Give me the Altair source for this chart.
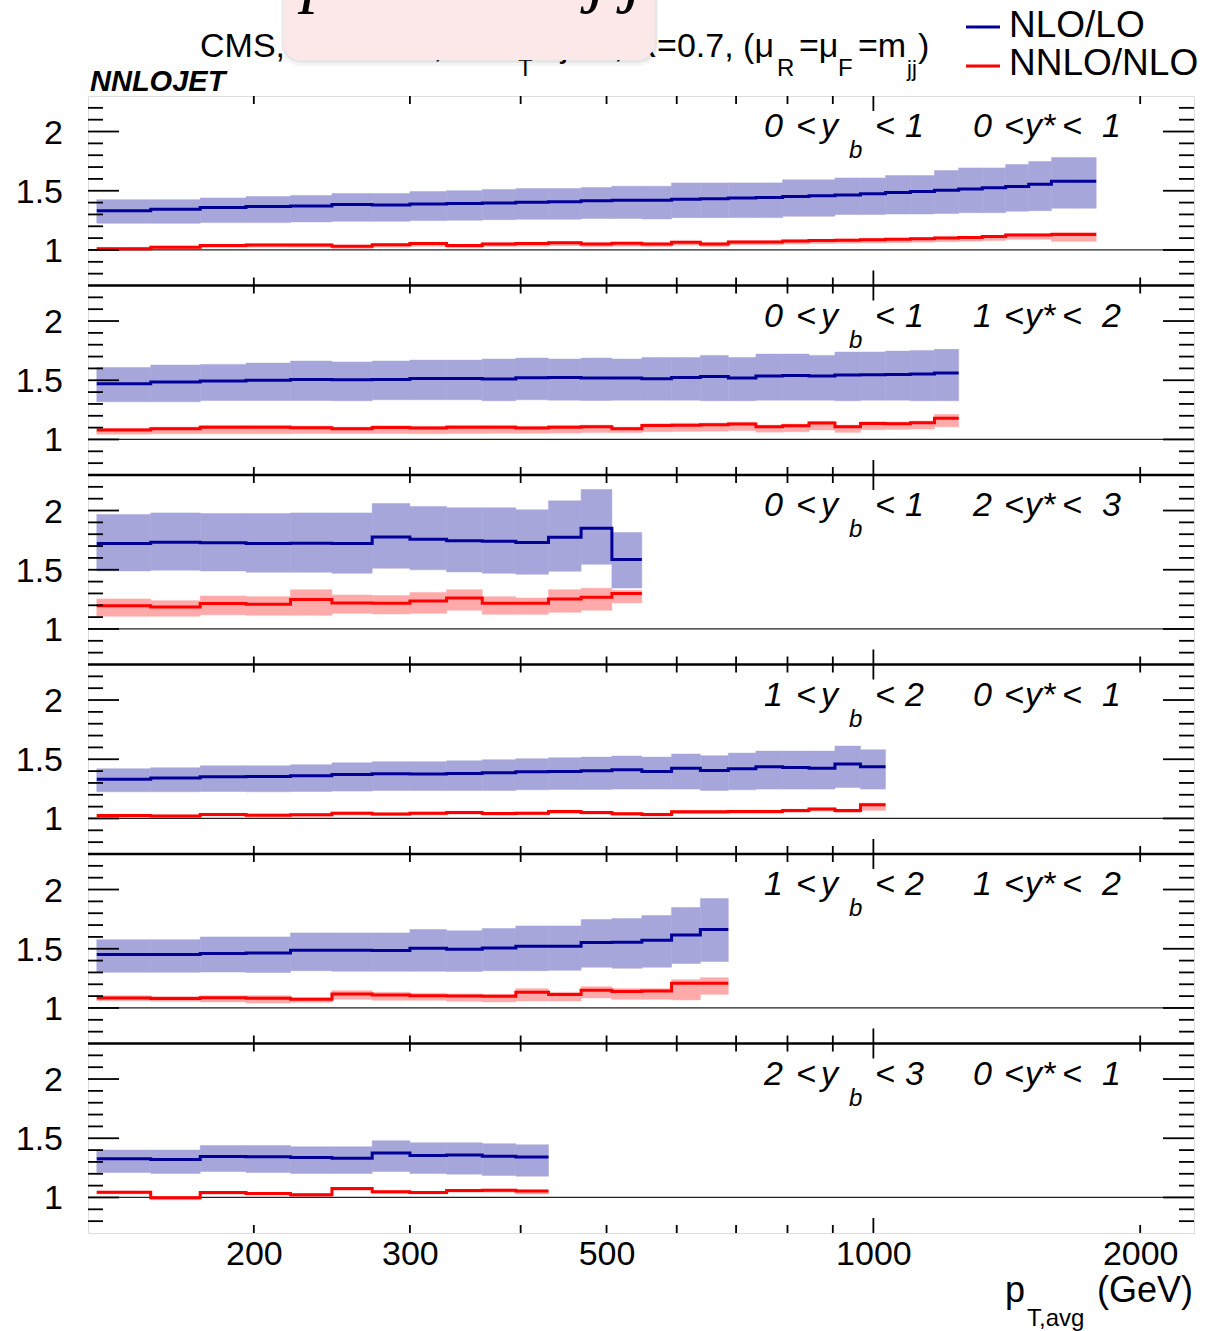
import altair as alt
import pandas as pd

FONT = "Liberation Sans"

# ---------------- data ----------------
EDGES = [133, 153, 174, 196, 220, 245, 272, 300, 330, 362, 395, 430, 468, 507,
         548, 592, 638, 686, 737, 790, 846, 905, 967, 1032, 1101, 1172, 1248,
         1327, 1410, 1497, 1588, 1684, 1784]

YB_LO = ["0", "0", "0", "1", "1", "2"]
YB_HI = ["1", "1", "1", "2", "2", "3"]
YS_LO = ["0", "1", "2", "0", "1", "0"]
YS_HI = ["1", "2", "3", "1", "2", "1"]

NLO = [
    [1.332, 1.344, 1.358, 1.366, 1.372, 1.383, 1.380, 1.389, 1.392, 1.397,
     1.403, 1.408, 1.415, 1.420, 1.420, 1.428, 1.433, 1.438, 1.444, 1.451,
     1.457, 1.465, 1.475, 1.485, 1.494, 1.504, 1.515, 1.525, 1.535, 1.555,
     1.580, 1.580],
    [1.470, 1.485, 1.493, 1.499, 1.507, 1.504, 1.507, 1.515, 1.515, 1.510,
     1.521, 1.524, 1.518, 1.520, 1.513, 1.524, 1.532, 1.518, 1.535, 1.541,
     1.535, 1.544, 1.546, 1.549, 1.552, 1.561],
    [1.721, 1.732, 1.727, 1.721, 1.724, 1.721, 1.777, 1.758, 1.744, 1.741,
     1.730, 1.775, 1.851, 1.586],
    [1.332, 1.341, 1.352, 1.355, 1.361, 1.372, 1.377, 1.375, 1.380, 1.386,
     1.394, 1.397, 1.403, 1.411, 1.397, 1.423, 1.406, 1.420, 1.437, 1.431,
     1.425, 1.459, 1.437],
    [1.451, 1.451, 1.459, 1.465, 1.487, 1.487, 1.485, 1.504, 1.496, 1.507,
     1.521, 1.521, 1.552, 1.555, 1.572, 1.617, 1.662],
    [1.327, 1.321, 1.346, 1.344, 1.338, 1.332, 1.375, 1.355, 1.358, 1.349,
     1.341],
]
NLO_HI = [
    [1.425, 1.425, 1.439, 1.451, 1.459, 1.476, 1.476, 1.493, 1.501, 1.510,
     1.518, 1.518, 1.527, 1.538, 1.538, 1.566, 1.566, 1.566, 1.566, 1.592,
     1.592, 1.608, 1.608, 1.628, 1.628, 1.670, 1.693, 1.693, 1.721, 1.746,
     1.780, 1.780],
    [1.608, 1.628, 1.634, 1.645, 1.662, 1.654, 1.662, 1.670, 1.670, 1.679,
     1.687, 1.679, 1.687, 1.679, 1.693, 1.693, 1.710, 1.693, 1.721, 1.721,
     1.710, 1.738, 1.738, 1.746, 1.752, 1.761],
    [1.966, 1.980, 1.975, 1.975, 1.980, 1.980, 2.059, 2.034, 2.023, 2.023,
     2.006, 2.082, 2.177, 1.814],
    [1.420, 1.428, 1.445, 1.445, 1.454, 1.470, 1.479, 1.479, 1.487, 1.496,
     1.504, 1.513, 1.518, 1.527, 1.518, 1.544, 1.530, 1.552, 1.569, 1.569,
     1.569, 1.611, 1.580],
    [1.577, 1.577, 1.600, 1.600, 1.634, 1.634, 1.634, 1.662, 1.651, 1.670,
     1.693, 1.693, 1.746, 1.755, 1.780, 1.848, 1.924],
    [1.400, 1.400, 1.439, 1.439, 1.428, 1.428, 1.479, 1.462, 1.462, 1.454,
     1.445],
]
NLO_LO = [
    [1.225, 1.225, 1.231, 1.231, 1.237, 1.242, 1.242, 1.248, 1.251, 1.256,
     1.259, 1.259, 1.265, 1.265, 1.262, 1.273, 1.273, 1.273, 1.273, 1.285,
     1.285, 1.299, 1.299, 1.304, 1.304, 1.307, 1.315, 1.315, 1.327, 1.332,
     1.352, 1.352],
    [1.318, 1.318, 1.330, 1.330, 1.330, 1.327, 1.335, 1.335, 1.335, 1.327,
     1.335, 1.332, 1.330, 1.332, 1.332, 1.332, 1.327, 1.327, 1.332, 1.332,
     1.332, 1.327, 1.332, 1.332, 1.327, 1.327],
    [1.490, 1.496, 1.490, 1.479, 1.479, 1.470, 1.513, 1.499, 1.482, 1.470,
     1.462, 1.487, 1.546, 1.346],
    [1.225, 1.225, 1.228, 1.225, 1.228, 1.231, 1.237, 1.237, 1.237, 1.237,
     1.242, 1.245, 1.245, 1.248, 1.248, 1.248, 1.237, 1.242, 1.248, 1.248,
     1.248, 1.262, 1.248],
    [1.301, 1.301, 1.304, 1.299, 1.315, 1.310, 1.310, 1.310, 1.307, 1.315,
     1.315, 1.318, 1.344, 1.335, 1.344, 1.375, 1.392],
    [1.211, 1.203, 1.220, 1.211, 1.203, 1.203, 1.220, 1.203, 1.197, 1.186,
     1.180],
]
NNLO = [
    [1.011, 1.023, 1.037, 1.042, 1.042, 1.031, 1.045, 1.054, 1.037, 1.051,
     1.054, 1.062, 1.051, 1.056, 1.051, 1.065, 1.051, 1.068, 1.068, 1.075,
     1.079, 1.083, 1.087, 1.090, 1.095, 1.101, 1.105, 1.113, 1.127, 1.127,
     1.130, 1.130],
    [1.079, 1.090, 1.104, 1.104, 1.099, 1.090, 1.101, 1.096, 1.104, 1.104,
     1.096, 1.104, 1.107, 1.090, 1.118, 1.121, 1.124, 1.130, 1.107, 1.115,
     1.138, 1.107, 1.135, 1.132, 1.141, 1.180],
    [1.197, 1.186, 1.214, 1.208, 1.248, 1.220, 1.217, 1.237, 1.262, 1.217,
     1.217, 1.254, 1.268, 1.299],
    [1.025, 1.020, 1.034, 1.028, 1.031, 1.045, 1.037, 1.045, 1.051, 1.042,
     1.045, 1.059, 1.051, 1.040, 1.034, 1.056, 1.056, 1.059, 1.059, 1.068,
     1.079, 1.068, 1.115],
    [1.085, 1.079, 1.087, 1.082, 1.073, 1.118, 1.110, 1.104, 1.101, 1.099,
     1.132, 1.113, 1.149, 1.138, 1.144, 1.208, 1.208],
    [1.045, 0.997, 1.042, 1.034, 1.023, 1.076, 1.048, 1.042, 1.059, 1.062,
     1.054],
]
NNLO_HI = [
    [1.021, 1.033, 1.047, 1.052, 1.052, 1.041, 1.055, 1.064, 1.047, 1.061,
     1.064, 1.072, 1.061, 1.066, 1.061, 1.075, 1.061, 1.078, 1.078, 1.085,
     1.089, 1.093, 1.097, 1.100, 1.105, 1.111, 1.115, 1.123, 1.137, 1.137,
     1.149, 1.149],
    [1.094, 1.105, 1.119, 1.119, 1.114, 1.105, 1.116, 1.111, 1.119, 1.119,
     1.111, 1.119, 1.122, 1.105, 1.133, 1.136, 1.139, 1.145, 1.122, 1.130,
     1.153, 1.122, 1.150, 1.147, 1.156, 1.211],
    [1.254, 1.239, 1.279, 1.273, 1.332, 1.287, 1.282, 1.307, 1.332, 1.273,
     1.262, 1.332, 1.344, 1.327],
    [1.035, 1.030, 1.044, 1.038, 1.041, 1.055, 1.047, 1.055, 1.061, 1.052,
     1.055, 1.069, 1.061, 1.050, 1.044, 1.066, 1.066, 1.069, 1.069, 1.078,
     1.089, 1.078, 1.130],
    [1.104, 1.096, 1.104, 1.104, 1.087, 1.146, 1.132, 1.124, 1.118, 1.115,
     1.163, 1.132, 1.180, 1.163, 1.163, 1.239, 1.256],
    [1.053, 1.008, 1.050, 1.042, 1.031, 1.084, 1.056, 1.050, 1.067, 1.070,
     1.062],
]
NNLO_LO = [
    [0.998, 1.008, 1.020, 1.024, 1.022, 1.012, 1.024, 1.032, 1.018, 1.030,
     1.032, 1.036, 1.028, 1.032, 1.028, 1.040, 1.028, 1.044, 1.044, 1.050,
     1.054, 1.057, 1.060, 1.062, 1.066, 1.070, 1.074, 1.080, 1.090, 1.090,
     1.073, 1.073],
    [1.045, 1.048, 1.048, 1.048, 1.050, 1.050, 1.050, 1.048, 1.050, 1.052,
     1.052, 1.054, 1.058, 1.058, 1.065, 1.068, 1.070, 1.075, 1.062, 1.065,
     1.080, 1.060, 1.082, 1.085, 1.088, 1.107],
    [1.107, 1.107, 1.121, 1.115, 1.115, 1.132, 1.127, 1.132, 1.158, 1.124,
     1.124, 1.141, 1.158, 1.220],
    [1.012, 1.008, 1.020, 1.016, 1.018, 1.030, 1.024, 1.030, 1.036, 1.028,
     1.031, 1.043, 1.036, 1.026, 1.020, 1.040, 1.040, 1.043, 1.043, 1.052,
     1.062, 1.050, 1.068],
    [1.062, 1.056, 1.051, 1.042, 1.048, 1.073, 1.065, 1.065, 1.056, 1.051,
     1.059, 1.059, 1.085, 1.073, 1.073, 1.068, 1.115],
    [1.030, 0.980, 1.028, 1.020, 1.008, 1.060, 1.034, 1.030, 1.045, 1.045,
     1.030],
]

X_LABELS = [200, 300, 500, 1000, 2000]
X_MINOR_TICKS = [200, 300, 400, 500, 600, 700, 800, 900, 2000]
X_MAJOR_TICKS = [1000]
Y_MAJOR = [1.0, 1.5, 2.0]
Y_MINOR = [0.8, 0.9, 1.1, 1.2, 1.3, 1.4, 1.6, 1.7, 1.8, 1.9, 2.1, 2.2]
Y_LABELS = ["1", "1.5", "2"]

# ---------------- layout constants ----------------
NP = 6
SPAN = 1.6
YMIN = 0.7
W = 1106
PH = 189.5
H = PH * NP
UPP = SPAN / PH          # data units per pixel (vertical)

BLUE = "#000099"
BLUE_BAND = "#a6a6db"
RED = "#ff0000"
RED_BAND = "#ffaaaa"

# ---------------- tables ----------------
band_rows, line_rows = [], []
for p in range(NP):
    off = (NP - 1 - p) * SPAN
    for name, c, lo, hi in (("NLO", NLO, NLO_LO, NLO_HI),
                            ("NNLO", NNLO, NNLO_LO, NNLO_HI)):
        vals = c[p]
        n = len(vals)
        for i in range(n):
            band_rows.append(dict(panel=p, series=name, x0=EDGES[i], x1=EDGES[i + 1],
                                  lo=lo[p][i], hi=hi[p][i], off=off))
            line_rows.append(dict(panel=p, series=name, x=EDGES[i], v=vals[i], off=off))
        line_rows.append(dict(panel=p, series=name, x=EDGES[n], v=vals[n - 1], off=off))
bands = pd.DataFrame(band_rows)
lines = pd.DataFrame(line_rows)

xs = alt.Scale(type="log", domain=[130, 2300], nice=False)
ys = alt.Scale(domain=[YMIN, YMIN + NP * SPAN], nice=False, zero=False)
xaxis = alt.Axis(values=X_LABELS, format="d", ticks=False, domain=False, grid=False,
                 labelFontSize=34, labelFont=FONT, labelColor="black", labelPadding=4,
                 title=None, labelFlush=False, labelOverlap=False)


def band(series, color):
    return (alt.Chart(bands)
            .transform_filter(alt.datum.series == series)
            .transform_calculate(ya="datum.lo + datum.off", yb="datum.hi + datum.off")
            .mark_rect(color=color, stroke=color, strokeWidth=0.5)
            .encode(x=alt.X("x0:Q", scale=xs, axis=xaxis), x2="x1:Q",
                    y=alt.Y("ya:Q", scale=ys, axis=None), y2="yb:Q"))


def step(series, color):
    return (alt.Chart(lines)
            .transform_filter(alt.datum.series == series)
            .transform_calculate(yv="datum.v + datum.off")
            .mark_line(interpolate="step-after", color=color, strokeWidth=3)
            .encode(x=alt.X("x:Q", scale=xs, axis=xaxis),
                    y=alt.Y("yv:Q", scale=ys, axis=None),
                    detail="panel:N"))


layers = [band("NLO", BLUE_BAND), band("NNLO", RED_BAND)]

# y = 1 reference lines
ones = pd.DataFrame({"yv": [1 + (NP - 1 - p) * SPAN for p in range(NP)]})
layers.append(alt.Chart(ones).mark_rule(color="#222222", strokeWidth=1.3)
              .encode(y=alt.Y("yv:Q", scale=ys, axis=None)))

layers += [step("NLO", BLUE), step("NNLO", RED)]

# panel separators
seps = pd.DataFrame({"yv": [YMIN + j * SPAN for j in range(1, NP)]})
layers.append(alt.Chart(seps).mark_rule(color="black", strokeWidth=2.5)
              .encode(y=alt.Y("yv:Q", scale=ys, axis=None)))

# y ticks (inside, left and right)
for vals_, length in ((Y_MAJOR, 31), (Y_MINOR, 15)):
    tdf = pd.DataFrame({"yv": [v + (NP - 1 - p) * SPAN for p in range(NP) for v in vals_]})
    for x0, x1 in ((0, length), (W, W - length)):
        layers.append(alt.Chart(tdf).mark_rule(color="black", strokeWidth=1.8)
                      .encode(y=alt.Y("yv:Q", scale=ys, axis=None),
                              x=alt.value(x0), x2=alt.value(x1)))

# x ticks (inside, top and bottom of every panel)
xt_rows = []
for ticks, length in ((X_MINOR_TICKS, 8), (X_MAJOR_TICKS, 15)):
    for p in range(NP):
        top = YMIN + (NP - p) * SPAN
        bot = YMIN + (NP - 1 - p) * SPAN
        for t in ticks:
            xt_rows.append(dict(x=t, ya=top, yb=top - length * UPP))
            xt_rows.append(dict(x=t, ya=bot, yb=bot + length * UPP))
xt = pd.DataFrame(xt_rows)
layers.append(alt.Chart(xt).mark_rule(color="black", strokeWidth=1.8)
              .encode(x=alt.X("x:Q", scale=xs, axis=xaxis),
                      y=alt.Y("ya:Q", scale=ys, axis=None), y2="yb:Q"))

# y labels
yl = pd.DataFrame([dict(s=s, yv=v + (NP - 1 - p) * SPAN)
                   for p in range(NP) for s, v in zip(Y_LABELS, Y_MAJOR)])
layers.append(alt.Chart(yl).mark_text(font=FONT, fontSize=34, align="right",
                                      baseline="middle", dy=2, color="black")
              .encode(y=alt.Y("yv:Q", scale=ys, axis=None), x=alt.value(-25),
                      text="s:N"))

ONE = pd.DataFrame({"k": [0]})


def T(s, x, y, size, style="normal", weight="normal", align="left", color="black",
      font=FONT):
    return (alt.Chart(ONE)
            .mark_text(text=s, font=font, fontSize=size, fontStyle=style,
                       fontWeight=weight, align=align, baseline="alphabetic",
                       color=color)
            .encode(x=alt.value(x), y=alt.value(y)))


# panel labels
L = 88
for p in range(NP):
    base = p * PH + 41
    pieces = [(764, YB_LO[p]), (796, "<"), (821, "y"), (875, "<"), (905, YB_HI[p]),
              (973, YS_LO[p]), (1004, "<"), (1025, "y*"), (1062, "<"), (1102, YS_HI[p])]
    for ax, s in pieces:
        layers.append(T(s, ax - L, base, 34, style="italic"))
    layers.append(T("b", 849 - L, p * PH + 62, 24, style="italic"))

# title line
TB = -39
layers += [
    T("CMS, \u221as=8 TeV, anti-k", 112, TB, 34),
    T("T", 430, -20, 24),
    T("jets, R=0.7, (\u03bc", 686, TB, 34, align="right"),
    T("R", 689, -20, 24),
    T("=\u03bc", 711, TB, 34),
    T("F", 750, -20, 24),
    T("=m", 770, TB, 34),
    T("jj", 819, -20, 22),
    T(")", 830, TB, 34),
]

# overlay box covering part of the title
layers += [
    alt.Chart(ONE).mark_rect(color="#000000", opacity=0.04, cornerRadiusBottomLeft=20,
                             cornerRadiusBottomRight=20)
    .encode(x=alt.value(193), x2=alt.value(570), y=alt.value(-110), y2=alt.value(-30)),
    alt.Chart(ONE).mark_rect(color="#000000", opacity=0.06, cornerRadiusBottomLeft=19,
                             cornerRadiusBottomRight=19)
    .encode(x=alt.value(194), x2=alt.value(569), y=alt.value(-110), y2=alt.value(-33)),
    alt.Chart(ONE).mark_rect(color="#fce8e8", cornerRadiusBottomLeft=18,
                             cornerRadiusBottomRight=18)
    .encode(x=alt.value(195), x2=alt.value(567), y=alt.value(-110), y2=alt.value(-36)),
    # descenders of a large formula whose upper part lies above the page
    T("p", 214, -97, 72, style="italic", font="Liberation Serif"),
    T("j", 500, -97, 72, style="italic", font="Liberation Serif"),
    T("j", 536, -97, 72, style="italic", font="Liberation Serif"),
]

# NNLOJET tag
layers.append(T("NNLOJET", 2, -5, 29, style="italic", weight="bold"))

# legend
layers += [
    alt.Chart(ONE).mark_rule(color=BLUE, strokeWidth=3)
    .encode(x=alt.value(878), x2=alt.value(912), y=alt.value(-69)),
    alt.Chart(ONE).mark_rule(color=RED, strokeWidth=3)
    .encode(x=alt.value(878), x2=alt.value(912), y=alt.value(-30)),
    T("NLO/LO", 921, -59, 37),
    T("NNLO/NLO", 921, -21, 37),
]

# x title
layers += [
    T("p", 917, 1206, 36),
    T("T,avg", 939, 1230, 24),
    T("(GeV)", 1105, 1206, 36, align="right"),
]

chart = (alt.layer(*layers)
         .properties(width=W, height=H,
                     autosize=alt.AutoSizeParams(type="none"),
                     padding={"left": 88, "top": 96, "right": 12, "bottom": 98})
         .configure_view(stroke="black", strokeWidth=2.5)
         .configure(background="white"))

chart.save("out.html", embed_options={"renderer": "svg", "actions": False})
